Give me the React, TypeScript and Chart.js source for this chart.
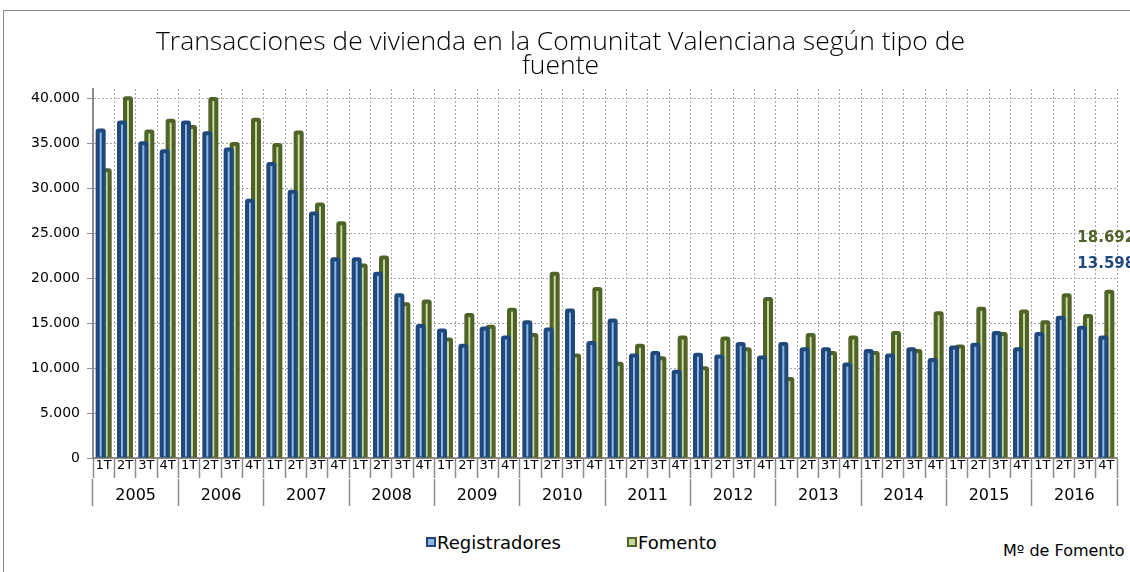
import React, { useEffect, useRef } from 'react';
import { Chart, registerables } from 'chart.js';

Chart.register(...registerables);

const years = ['2005', '2006', '2007', '2008', '2009', '2010', '2011', '2012', '2013', '2014', '2015', '2016'];
const quarterNames = ['1T', '2T', '3T', '4T'];
const categories = years.flatMap(() => quarterNames);
const yTickValues = [0, 5000, 10000, 15000, 20000, 25000, 30000, 35000, 40000];

const registradores = [
  36600, 37500, 35200, 34300,
  37500, 36300, 34500, 28800,
  32900, 29800, 27400, 22300,
  22300, 20700, 18300, 14900,
  14400, 12700, 14600, 13600,
  15300, 14500, 16600, 13000,
  15500, 11600, 11900, 9800,
  11700, 11500, 12900, 11400,
  12900, 12300, 12300, 10600,
  12100, 11600, 12300, 11100,
  12500, 12800, 14100, 12300,
  14000, 15800, 14700, 13598,
];

const fomento = [
  32200, 40200, 36500, 37700,
  37000, 40100, 35100, 37800,
  35000, 36400, 28400, 26300,
  21600, 22500, 17300, 17600,
  13400, 16100, 14800, 16700,
  13900, 20700, 11600, 19000,
  10700, 12700, 11300, 13600,
  10200, 13500, 12300, 17900,
  9000, 13900, 11900, 13600,
  11900, 14100, 12100, 16300,
  12600, 16800, 14000, 16500,
  15300, 18300, 16000, 18692,
];

const titleLines = ['Transacciones de vivienda en la Comunitat Valenciana según tipo de', 'fuente'];
const seriesNames = ['Registradores', 'Fomento'];
const sourceNote = 'Mº de Fomento';

const BLUE = '#1f497d';
const BLUE_LIGHT = '#8db4e2';
const GREEN = '#4f6228';
const GREEN_LIGHT = '#c3d69b';
const stripeColors = [BLUE_LIGHT, GREEN_LIGHT];

const fmt = (v: number) => Math.round(v).toString().replace(/\B(?=(\d{3})+(?!\d))/g, '.');

const stripePlugin = {
  id: 'stripes',
  afterDatasetDraw(chart: any, args: any) {
    const ctx = chart.ctx;
    const meta = args.meta;
    ctx.save();
    ctx.strokeStyle = stripeColors[args.index];
    ctx.lineWidth = 2;
    meta.data.forEach((bar: any) => {
      const p = bar.getProps(['x', 'y', 'base'], true);
      ctx.beginPath();
      ctx.moveTo(p.x, p.y + 4);
      ctx.lineTo(p.x, p.base - 1);
      ctx.stroke();
    });
    ctx.restore();
  },
};

const lastLabelPlugin = {
  id: 'lastLabels',
  afterDatasetsDraw(chart: any) {
    const ctx = chart.ctx;
    const xs = chart.scales.x;
    const ys = chart.scales.y;
    const i = fomento.length - 1;
    const cx = xs.getPixelForValue(i);
    const top = ys.getPixelForValue(fomento[i]);
    ctx.save();
    ctx.font = 'bold 15px "DejaVu Sans"';
    ctx.textAlign = 'left';
    ctx.textBaseline = 'middle';
    ctx.fillStyle = GREEN;
    ctx.fillText(fmt(fomento[i]), cx - 29, top - 52);
    ctx.fillStyle = BLUE;
    ctx.fillText(fmt(registradores[i]), cx - 29, top - 26);
    ctx.restore();
  },
};

export default function App() {
  const canvasRef = useRef<HTMLCanvasElement | null>(null);

  useEffect(() => {
    if (!canvasRef.current) return;
    const chart = new Chart(canvasRef.current, {
      type: 'bar',
      data: {
        labels: categories,
        datasets: [
          {
            label: seriesNames[0],
            data: registradores,
            backgroundColor: BLUE,
            borderRadius: 3,
            categoryPercentage: 0.5625,
            barPercentage: 1.667,
          },
          {
            label: seriesNames[1],
            data: fomento,
            backgroundColor: GREEN,
            borderRadius: 3,
            categoryPercentage: 0.5625,
            barPercentage: 1.667,
          },
        ],
      },
      options: {
        responsive: false,
        animation: false,
        devicePixelRatio: 1,
        layout: { padding: { left: 0, right: 29, top: 0, bottom: 0 } },
        plugins: {
          legend: { display: false },
          tooltip: { enabled: false },
          title: {
            display: true,
            text: titleLines,
            color: '#000',
            font: { family: '"Open Sans"', size: 26.5, weight: '300', lineHeight: 0.9 },
            padding: { top: 20, bottom: 10.3 },
          },
        },
        scales: {
          x: {
            type: 'category',
            position: 'bottom',
            weight: 0,
            offset: true,
            grid: {
              offset: true,
              drawOnChartArea: true,
              color: '#a6a6a6',
              lineWidth: 1,
              tickLength: 20,
              tickColor: '#8c8c8c',
              tickWidth: 1.5,
            },
            border: { display: true, color: '#8c8c8c', width: 2, dash: [2, 2] },
            ticks: {
              autoSkip: false,
              maxRotation: 0,
              minRotation: 0,
              padding: -20,
              color: '#000',
              font: { family: 'DejaVu Sans', size: 13 },
            },
            afterFit: (s: any) => { s.height = 21; },
          },
          x2: {
            type: 'category',
            labels: years,
            position: 'bottom',
            weight: 1,
            offset: true,
            grid: {
              offset: true,
              drawOnChartArea: false,
              tickLength: 27,
              tickColor: '#8c8c8c',
              tickWidth: 1.5,
            },
            border: { display: false },
            ticks: {
              autoSkip: false,
              maxRotation: 0,
              minRotation: 0,
              padding: -20,
              color: '#000',
              font: { family: 'DejaVu Sans', size: 16 },
            },
            afterFit: (s: any) => { s.height = 32; },
          },
          y: {
            min: 0,
            max: 41000,
            ticks: {
              padding: 7,
              color: '#000',
              font: { family: 'DejaVu Sans', size: 14 },
              callback: (v: any) => fmt(Number(v)),
            },
            afterBuildTicks: (axis: any) => {
              axis.ticks = yTickValues.map((v) => ({ value: v }));
            },
            grid: {
              color: '#a6a6a6',
              lineWidth: 1,
              tickLength: 6,
              tickColor: '#8c8c8c',
            },
            border: { display: true, color: '#8c8c8c', width: 2, dash: [2, 2] },
            afterFit: (s: any) => { s.width = 89; },
          },
        },
      },
      plugins: [stripePlugin, lastLabelPlugin],
    } as any);
    return () => chart.destroy();
  }, []);

  const box = (fill: string, edge: string): React.CSSProperties => ({
    position: 'absolute',
    width: 10,
    height: 10,
    boxSizing: 'border-box',
    background: fill,
    border: `2px solid ${edge}`,
  });

  const textStyle: React.CSSProperties = {
    position: 'absolute',
    fontFamily: '"DejaVu Sans"',
    fontSize: 18,
    lineHeight: '18px',
    color: '#000',
    whiteSpace: 'nowrap',
  };

  return (
    <div style={{ position: 'absolute', left: 0, top: 0, width: 1130, height: 572, overflow: 'hidden', background: '#fff' }}>
      <div style={{ position: 'absolute', left: 3, top: 10, width: 1200, height: 620, border: '1px solid #8a8a8a', boxSizing: 'border-box' }} />
      <div style={{ position: 'absolute', left: 4, top: 11, width: 1142, height: 500 }}>
        <canvas ref={canvasRef} width={1142} height={500} style={{ display: 'block', width: 1142, height: 500 }} />
      </div>
      <div style={{ ...box(BLUE_LIGHT, BLUE), left: 426, top: 537 }} />
      <div style={{ ...textStyle, left: 437, top: 534 }}>{seriesNames[0]}</div>
      <div style={{ ...box(GREEN_LIGHT, GREEN), left: 627, top: 537 }} />
      <div style={{ ...textStyle, left: 638, top: 534 }}>{seriesNames[1]}</div>
      <div style={{ ...textStyle, fontSize: 16, lineHeight: '16px', left: 1003, top: 543 }}>{sourceNote}</div>
    </div>
  );
}
